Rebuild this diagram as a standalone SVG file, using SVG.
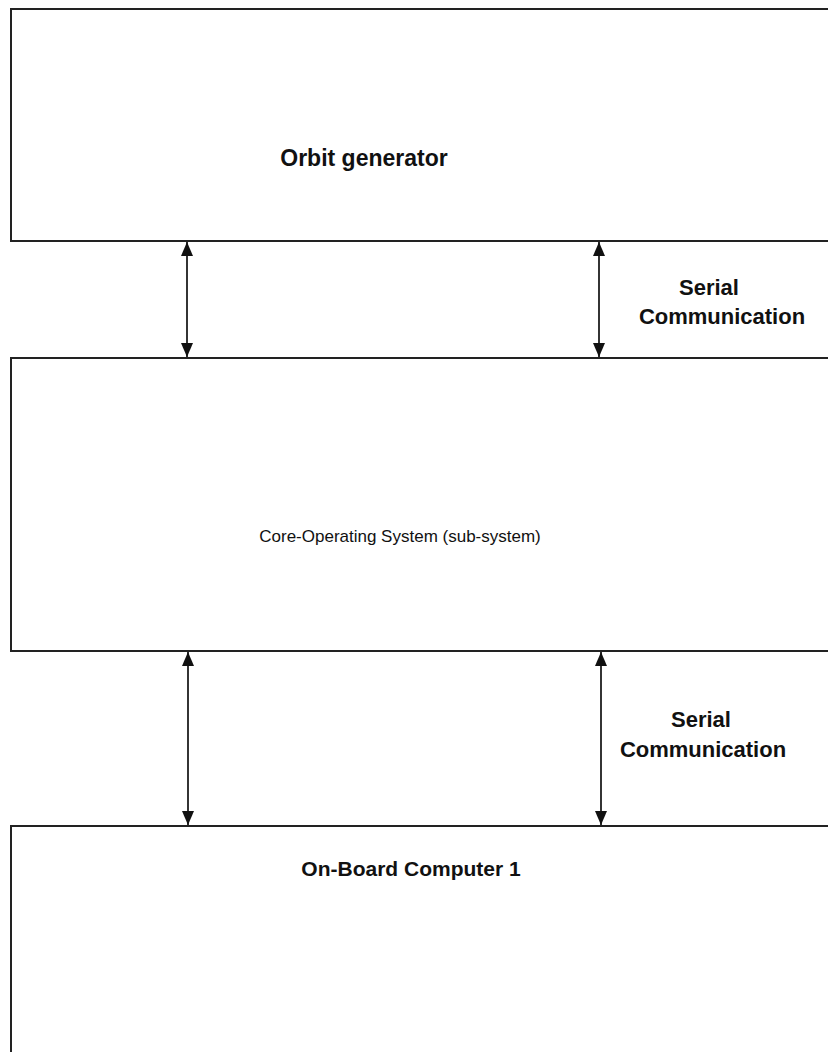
<svg xmlns="http://www.w3.org/2000/svg" width="828" height="1052" viewBox="0 0 828 1052">
  <defs>
    <marker id="head" viewBox="0 0 14 12" refX="14" refY="6" markerWidth="14" markerHeight="12" markerUnits="userSpaceOnUse" orient="auto-start-reverse">
      <path d="M0,0 L14,6 L0,12 Z" fill="#111"/>
    </marker>
    <style>
      .box { fill: #fff; stroke: #222; stroke-width: 2; }
      .link { stroke: #111; stroke-width: 1.7; fill: none; marker-start: url(#head); marker-end: url(#head); }
      .bold { font-family: "Liberation Sans", Arial, sans-serif; font-weight: bold; font-size: 22px; fill: #111; text-anchor: middle; }
      .plain { font-family: "Liberation Sans", Arial, sans-serif; font-size: 17px; fill: #111; text-anchor: middle; }
    </style>
  </defs>
  <rect width="828" height="1052" fill="#fff"/>

  <g id="orbit-generator">
    <rect class="box" x="11" y="9" width="830" height="232"/>
    <text class="bold" x="364" y="166" style="font-size:23px">Orbit generator</text>
  </g>

  <g id="core-os">
    <rect class="box" x="11" y="358" width="830" height="293"/>
    <text class="plain" x="400" y="542">Core-Operating System (sub-system)</text>
  </g>

  <g id="obc1">
    <rect class="box" x="11" y="826" width="830" height="240"/>
    <text class="bold" x="411" y="876" style="font-size:21px">On-Board Computer 1</text>
  </g>

  <g id="connectors">
    <line class="link" x1="187" y1="242" x2="187" y2="357"/>
    <line class="link" x1="599" y1="242" x2="599" y2="357"/>
    <line class="link" x1="188" y1="652" x2="188" y2="825"/>
    <line class="link" x1="601" y1="652" x2="601" y2="825"/>
    <text class="bold" x="709" y="295">Serial</text>
    <text class="bold" x="722" y="324">Communication</text>
    <text class="bold" x="701" y="727">Serial</text>
    <text class="bold" x="703" y="757">Communication</text>
  </g>
</svg>
